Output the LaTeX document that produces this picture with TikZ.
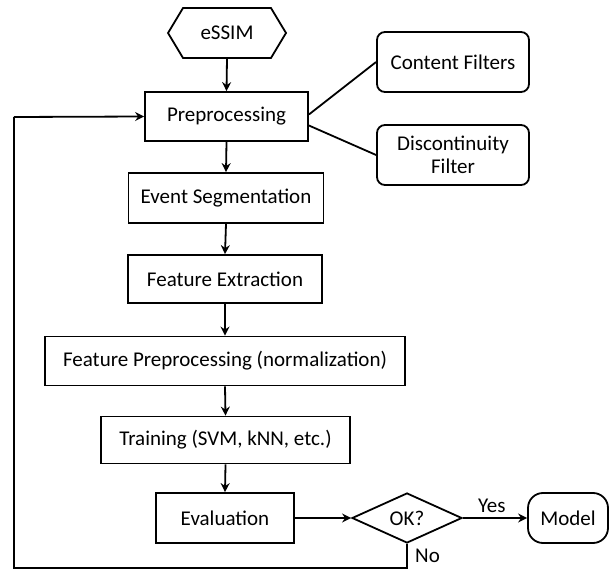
\documentclass[tikz,border=0pt]{standalone}
\usepackage{fontspec}
\setmainfont{Carlito}
\usetikzlibrary{arrows.meta,shapes.geometric,shapes.symbols,shapes.misc}
\begin{document}
\begin{tikzpicture}[x=1pt,y=-1pt,
  line width=1.8pt,
  font=\fontsize{21}{25}\selectfont,
  arr/.style={-{Stealth[length=9pt,width=9pt,inset=3pt]}},
  box/.style={draw,rectangle,inner sep=0pt,minimum height=49pt},
  rbox/.style={draw,rectangle,rounded corners=8pt,inner sep=0pt,minimum width=152pt,minimum height=60pt,align=center},
]
\useasboundingbox (0,0) rectangle (611,572);
\node[draw,signal,signal to=west and east,signal pointer angle=118,inner sep=0pt,minimum width=118pt,minimum height=50pt] (e) at (227,33) {eSSIM};
\node[box,minimum width=163pt] (pre) at (226.5,116.5) {Preprocessing};
\node[rbox] (cf) at (453,62) {Content Filters};
\node[rbox] (df) at (453,155) {Discontinuity\\[-2pt]Filter};
\node[box,minimum width=195pt,minimum height=50pt] (es) at (226,198) {Event Segmentation};
\node[box,minimum width=194pt,minimum height=48pt] (fe) at (225,279) {Feature Extraction};
\node[box,minimum width=360pt] (fp) at (225,361) {Feature Preprocessing (normalization)};
\node[box,minimum width=249pt,minimum height=47pt] (tr) at (225.5,440) {Training (SVM, kNN, etc.)};
\node[box,minimum width=138pt,minimum height=50pt] (ev) at (225,518) {Evaluation};
\node[draw,diamond,inner sep=0pt,minimum width=110pt,minimum height=50pt] (ok) at (407,518) {OK?};
\node[draw,rectangle,rounded corners=15pt,inner sep=0pt,minimum width=80pt,minimum height=50pt] (m) at (568,518) {Model};
\coordinate (b1) at (407,568);
\coordinate (b2) at (14,568);
\coordinate (b3) at (14,117);
\draw[arr] (e.south) -- (pre.north);
\draw[arr] (pre.south) -- (es.north);
\draw[arr] (es.south) -- (fe.north);
\draw[arr] (fe.south) -- (fp.north);
\draw[arr] (fp.south) -- (tr.north);
\draw[arr] (tr.south) -- (ev.north);
\draw[arr] (ev.east) -- (ok.west);
\draw[arr] (ok.east) -- node[above,pos=0.45,yshift=1pt] (yes) {Yes} (m.west);
\draw (ok.south) -- (b1) -- (b2) -- (b3);
\draw[arr] (b3) -- (pre.west);
\node[anchor=west] (no) at (411,556) {No};
\draw ([yshift=2pt]pre.east) -- (cf.west);
\draw ([yshift=-9pt]pre.east) -- (df.west);
\end{tikzpicture}
\end{document}
